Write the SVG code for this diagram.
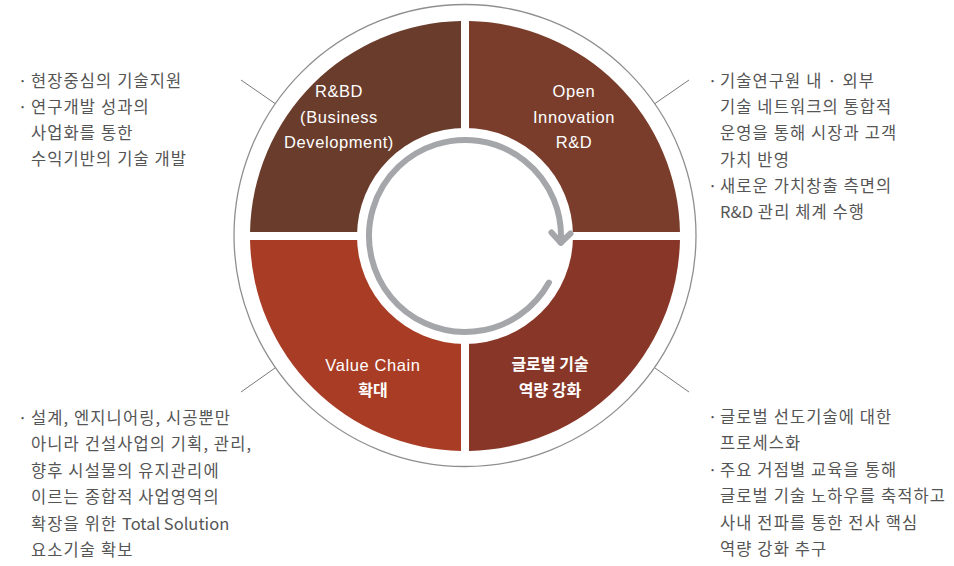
<svg xmlns="http://www.w3.org/2000/svg" width="954" height="566" viewBox="0 0 954 566">
<style>
.side{font-family:"Noto Sans CJK KR","Liberation Sans",sans-serif;font-size:16.5px;fill:#555555;letter-spacing:1.1px}
.lat{letter-spacing:0px}
.lab{font-family:"Liberation Sans","Noto Sans CJK KR",sans-serif;font-size:16.5px;fill:#ffffff;text-anchor:middle;letter-spacing:0.6px}
.labk{font-family:"Noto Sans CJK KR",sans-serif;font-size:16px;fill:#ffffff;text-anchor:middle;font-weight:bold}
.conn{stroke:#7a7a7a;stroke-width:1;fill:none}
</style>
<rect width="954" height="566" fill="#ffffff"/>
<circle cx="465" cy="235.5" r="231" fill="none" stroke="#8f8f8f" stroke-width="1.3"/>
<g id="connectors">
<line class="conn" x1="275" y1="103.5" x2="241" y2="80"/>
<line class="conn" x1="655" y1="103.5" x2="689" y2="80"/>
<line class="conn" x1="275" y1="368" x2="241" y2="392"/>
<line class="conn" x1="655" y1="368" x2="689" y2="392"/>
</g>
<g id="rbd">
<path d="M461,232 L461,21.04 A215,215 0 0 0 250.04,232 Z" fill="#6a3c2c"/>
<text class="lab" x="339" y="97">R&amp;BD</text>
<text class="lab" x="339" y="122.5">(Business</text>
<text class="lab" x="339" y="148">Development)</text>
</g>
<g id="open">
<path d="M469,232 L679.96,232 A215,215 0 0 0 469,21.04 Z" fill="#7a3d2b"/>
<text class="lab" x="574" y="97">Open</text>
<text class="lab" x="574" y="122.5">Innovation</text>
<text class="lab" x="574" y="148">R&amp;D</text>
</g>
<g id="global">
<path d="M469,240 L469,450.96 A215,215 0 0 0 679.96,240 Z" fill="#883628"/>
<text class="labk" x="550" y="370">글로벌 기술</text>
<text class="labk" x="550" y="395.5">역량 강화</text>
</g>
<g id="value">
<path d="M461,240 L250.04,240 A215,215 0 0 0 461,450.96 Z" fill="#a93c24"/>
<text class="lab" x="373" y="371">Value Chain</text>
<text class="labk" x="373" y="395.5">확대</text>
</g>
<g id="cycle">
<circle cx="465" cy="236" r="108" fill="#ffffff"/>
<path d="M548.96,282.54 A96,96 0 1 1 560.77,242.7" fill="none" stroke="#a4a6a9" stroke-width="6" stroke-linecap="round"/>
<path d="M551.5,232.5 L560.77,242.7 L570.5,233.5" fill="none" stroke="#a4a6a9" stroke-width="6" stroke-linecap="round" stroke-linejoin="round"/>
</g>
<g id="text-rbd">
<text class="side" x="18" y="87">·</text>
<text class="side" x="31" y="87">현장중심의 기술지원</text>
<text class="side" x="18" y="113">·</text>
<text class="side" x="31" y="113">연구개발 성과의</text>
<text class="side" x="31" y="139">사업화를 통한</text>
<text class="side" x="31" y="165">수익기반의 기술 개발</text>
</g>
<g id="text-open">
<text class="side" x="708" y="87">·</text>
<text class="side" x="720" y="87">기술연구원 내 · 외부</text>
<text class="side" x="720" y="113">기술 네트워크의 통합적</text>
<text class="side" x="720" y="139">운영을 통해 시장과 고객</text>
<text class="side" x="720" y="166">가치 반영</text>
<text class="side" x="708" y="192">·</text>
<text class="side" x="720" y="192">새로운 가치창출 측면의</text>
<text class="side" x="720" y="218"><tspan class="lat">R&amp;D</tspan> 관리 체계 수행</text>
</g>
<g id="text-value">
<text class="side" x="18" y="424">·</text>
<text class="side" x="31" y="424">설계, 엔지니어링, 시공뿐만</text>
<text class="side" x="31" y="450">아니라 건설사업의 기획, 관리,</text>
<text class="side" x="31" y="477">향후 시설물의 유지관리에</text>
<text class="side" x="31" y="503">이르는 종합적 사업영역의</text>
<text class="side" x="31" y="530">확장을 위한 <tspan class="lat">Total Solution</tspan></text>
<text class="side" x="31" y="556">요소기술 확보</text>
</g>
<g id="text-global">
<text class="side" x="708" y="423">·</text>
<text class="side" x="720" y="423">글로벌 선도기술에 대한</text>
<text class="side" x="720" y="449">프로세스화</text>
<text class="side" x="708" y="476">·</text>
<text class="side" x="720" y="476">주요 거점별 교육을 통해</text>
<text class="side" x="720" y="502">글로벌 기술 노하우를 축적하고</text>
<text class="side" x="720" y="529">사내 전파를 통한 전사 핵심</text>
<text class="side" x="720" y="555">역량 강화 추구</text>
</g>
</svg>
